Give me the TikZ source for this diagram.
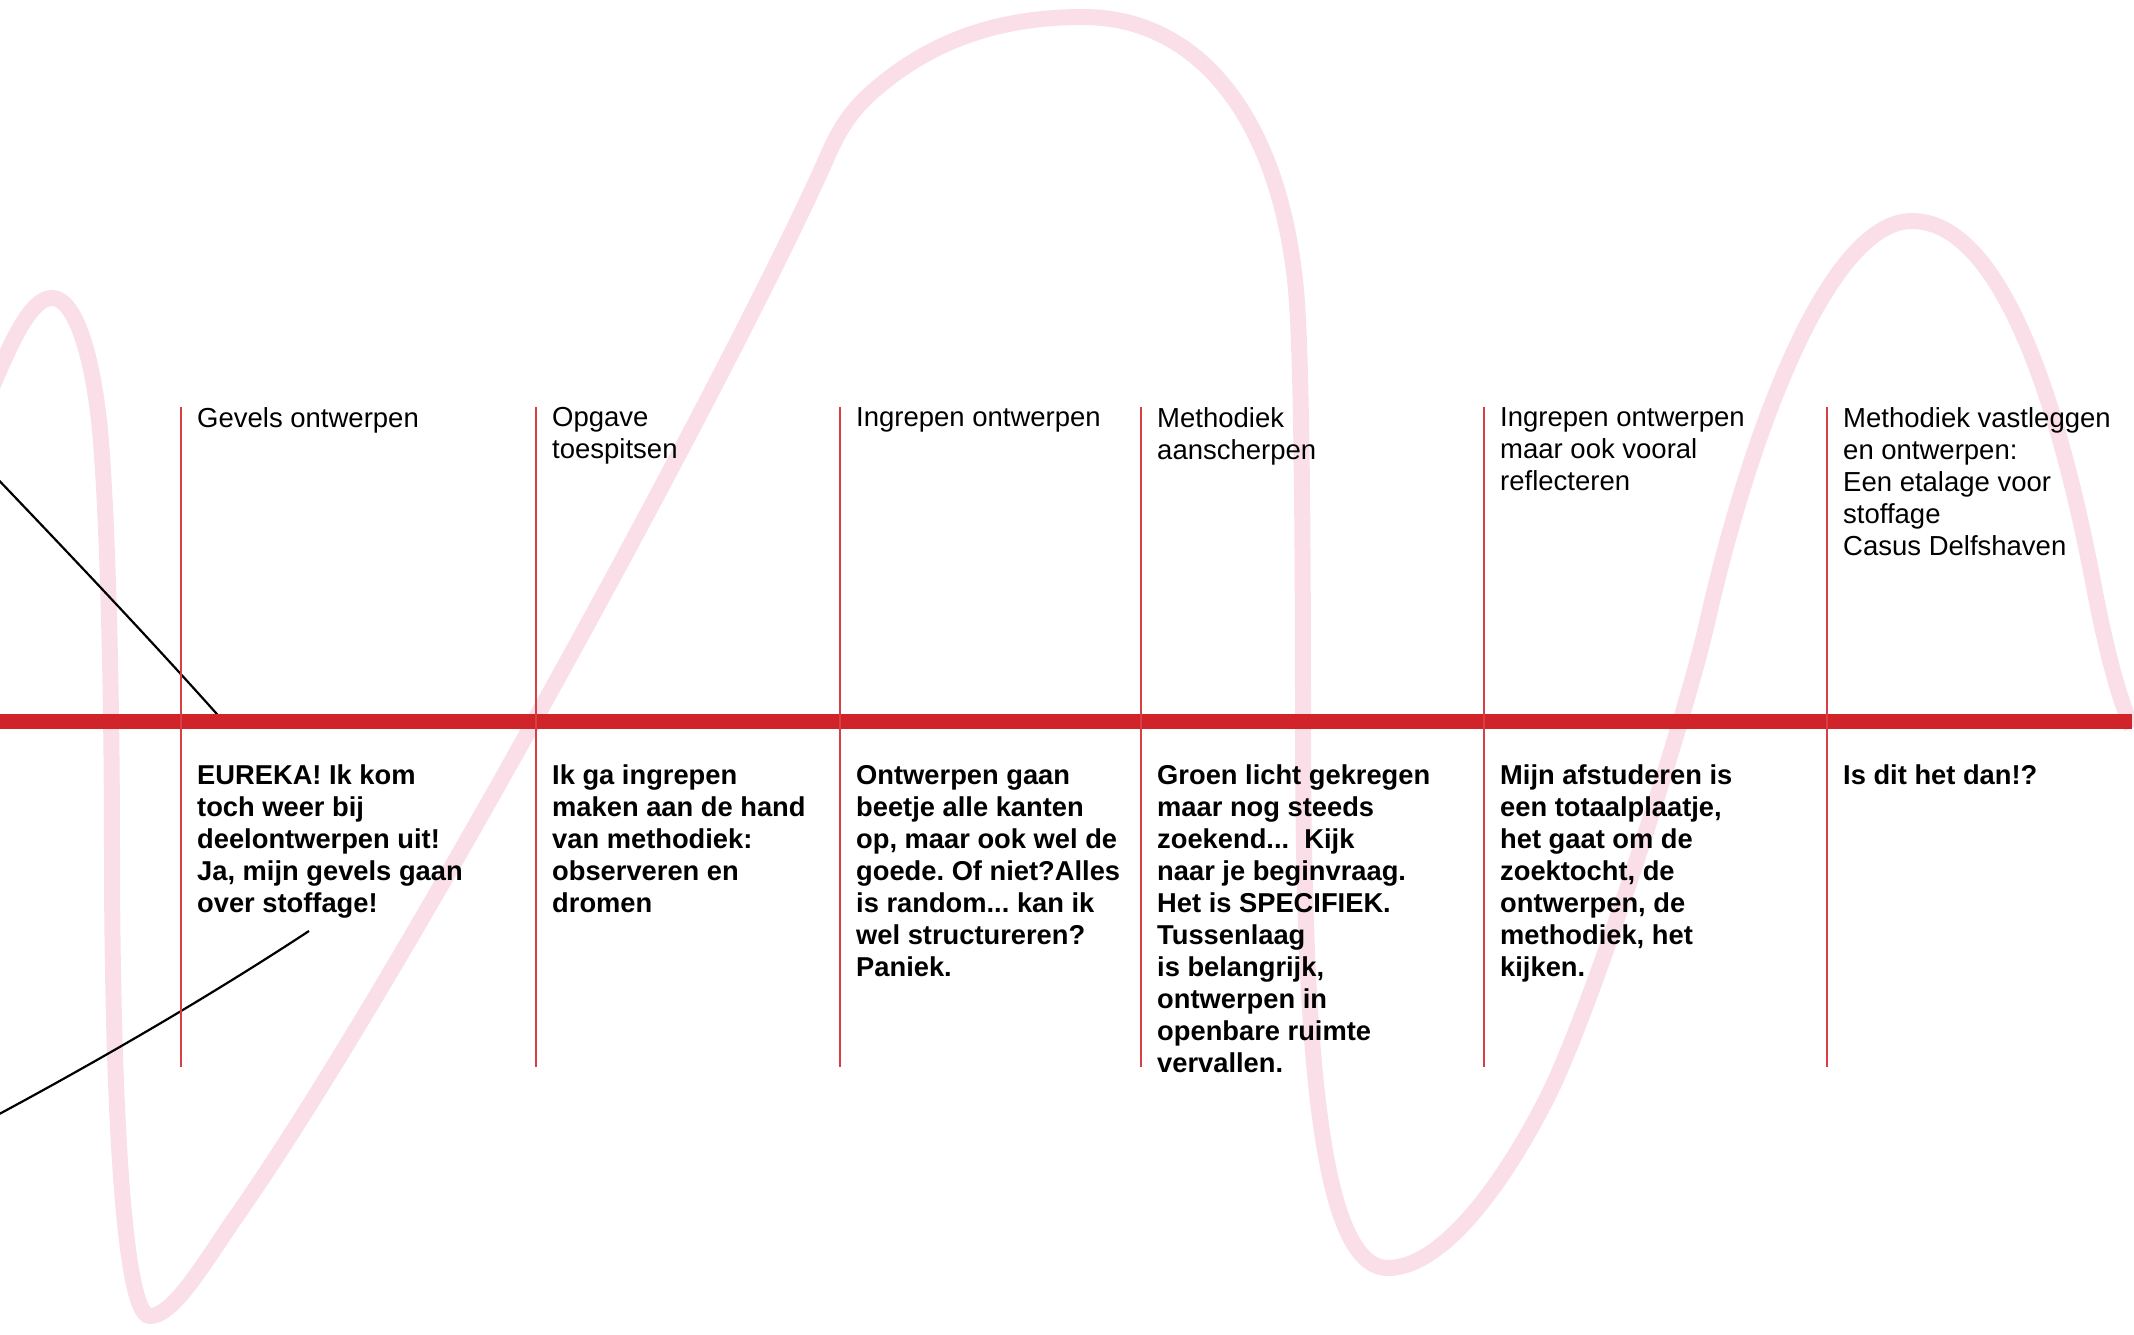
\documentclass[tikz,border=0pt]{standalone}
\usepackage{fontspec}
\setmainfont{Liberation Sans}
\frenchspacing
\usetikzlibrary{positioning, calc}

\definecolor{lijnrood}{RGB}{208,35,42}
\definecolor{streeprood}{RGB}{216,62,66}
\definecolor{roze}{RGB}{250,223,233}

\tikzset{
	kop/.style={anchor=north west, inner sep=0pt, align=left, font=\fontsize{27.5}{32}\selectfont},
	tekst/.style={anchor=north west, inner sep=0pt, align=left, font=\fontsize{27.3}{32}\selectfont\bfseries},
	streep/.style={streeprood, line width=2pt},
	golf/.style={roze, line width=16pt}
}

\begin{document}
\begin{tikzpicture}[x=1pt, y=-1pt]
	\useasboundingbox (0,0) rectangle (2134,1335);
	\clip (0,0) rectangle (2134,1335);
	% roze golf
	\draw[golf] (-10,392) .. controls (10,345) and (30,298) .. (52,298)
		.. controls (74,298) and (92,350) .. (100,430)
		.. controls (108,520) and (112,700) .. (112,850)
		.. controls (112,1050) and (120,1316) .. (150,1316)
		.. controls (172,1316) and (200,1270) .. (233,1221)
		.. controls (400,985) and (745,345) .. (828,155)
		.. controls (838,132) and (850,112) .. (870,94)
		.. controls (930,40) and (1000,17) .. (1083,17)
		.. controls (1200,17) and (1280,120) .. (1296,290)
		.. controls (1301,345) and (1303,500) .. (1303,720)
		.. controls (1303,1050) and (1320,1268) .. (1388,1268)
		.. controls (1440,1268) and (1500,1190) .. (1546,1100)
		.. controls (1590,1015) and (1685,720) .. (1707,623)
		.. controls (1751,428) and (1830,221) .. (1912,221)
		.. controls (1995,221) and (2055,380) .. (2094,587)
		.. controls (2108,660) and (2120,700) .. (2132,728);
	% zwarte lijnen
	\coordinate (Z1) at (-10,471);
	\coordinate (Z2) at (224,722);
	\coordinate (Z3) at (-10,1119);
	\coordinate (Z4) at (309,931);
	\draw[line width=2.2pt] (Z1) .. controls (80,565) and (160,650) .. (Z2);
	\draw[line width=2.2pt] (Z3) .. controls (100,1060) and (210,996) .. (Z4);
	% tijdlijn
	\coordinate (begin) at (0,721.5);
	\coordinate (eind) at (2132,721.5);
	\draw[lijnrood, line width=15pt] (begin) -- (eind);
	\foreach \x [count=\i] in {181,536,840,1141,1484,1827}{
		\coordinate (boven\i) at (\x,407);
		\coordinate (onder\i) at (\x,1067);
		\draw[streep] (boven\i) -- (onder\i);
	}
	% koppen
	\node[kop] (kop1) at (197,407) {Gevels ontwerpen};
	\node[kop] (kop2) at (552,407) {Opgave\\toespitsen};
	\node[kop] (kop3) at (856,407) {Ingrepen ontwerpen};
	\node[kop] (kop4) at (1157,407) {Methodiek\\aanscherpen};
	\node[kop] (kop5) at (1500,407) {Ingrepen ontwerpen\\maar ook vooral\\reflecteren};
	\node[kop] (kop6) at (1843,407) {Methodiek vastleggen\\en ontwerpen:\\Een etalage voor\\stoffage\\Casus Delfshaven};
	% teksten
	\node[tekst] (tekst1) at (197,765) {EUREKA! Ik kom\\toch weer bij\\deelontwerpen uit!\\Ja, mijn gevels gaan\\over stoffage!};
	\node[tekst] (tekst2) at (552,765) {Ik ga ingrepen\\maken aan de hand\\van methodiek:\\observeren en\\dromen};
	\node[tekst] (tekst3) at (856,765) {Ontwerpen gaan\\beetje alle kanten\\op, maar ook wel de\\goede. Of niet?Alles\\is random... kan ik\\wel structureren?\\Paniek.};
	\node[tekst] (tekst4) at (1157,765) {Groen licht gekregen\\maar nog steeds\\zoekend...\ \ Kijk\\naar je beginvraag.\\Het is SPECIFIEK.\\Tussenlaag\\is belangrijk,\\ontwerpen in\\openbare ruimte\\vervallen.};
	\node[tekst] (tekst5) at (1500,765) {Mijn afstuderen is\\een totaalplaatje,\\het gaat om de\\zoektocht, de\\ontwerpen, de\\methodiek, het\\kijken.};
	\node[tekst] (tekst6) at (1843,765) {Is dit het dan!?};
\end{tikzpicture}
\end{document}
